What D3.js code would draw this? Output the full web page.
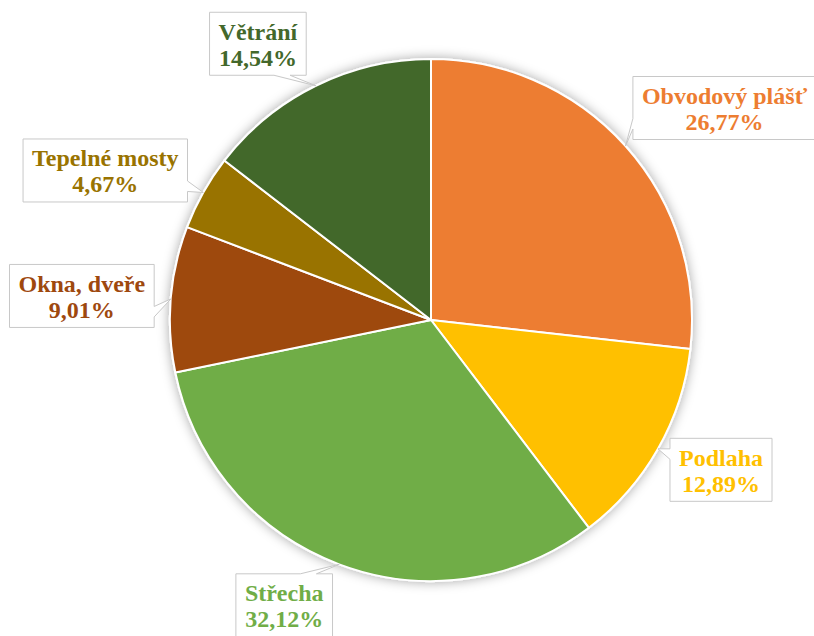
<!DOCTYPE html>
<html>
<head>
<meta charset="utf-8">
<script src="https://cdn.jsdelivr.net/npm/d3@7"></script>
<style>
  body { margin: 0; background: #fff; }
  svg { display: block; }
  .lbl { font-family: "Liberation Serif", "Times New Roman", Tinos, "DejaVu Serif", serif; font-weight: bold; }
</style>
</head>
<body>
<svg id="chart" width="814" height="636"></svg>
<script>
// data, clockwise from 12 o'clock
var categories = ["Obvodový plášť", "Podlaha", "Střecha", "Okna, dveře", "Tepelné mosty", "Větrání"];
var shares = [26.77, 12.89, 32.12, 9.01, 4.67, 14.54];
var shareLabels = ["26,77%", "12,89%", "32,12%", "9,01%", "4,67%", "14,54%"];
var colors = ["#ED7D31", "#FFC000", "#70AD47", "#9E480E", "#997300", "#43682B"];

// where each callout box sits, relative to the point its tail touches
var labelNudge = [[99, -38], [63, 21], [-55, 41], [-89, -3], [-98, -22], [-58, -42]];

var width = 814, height = 636;
var cx = 431, cy = 320, radius = 261;

var svg = d3.select("#chart");

var defs = svg.append("defs");
var shadow = defs.append("filter").attr("id", "pieShadow")
    .attr("x", "-20%").attr("y", "-20%").attr("width", "140%").attr("height", "140%");
shadow.append("feDropShadow")
    .attr("dx", 0).attr("dy", 0)
    .attr("stdDeviation", 6)
    .attr("flood-color", "#000")
    .attr("flood-opacity", 0.35);

var slices = categories.map(function (c, i) {
    return {name: c, value: shares[i], label: shareLabels[i], color: colors[i], nudge: labelNudge[i]};
});

var pie = d3.pie().sort(null).value(function (d) { return d.value; });
var arc = d3.arc().innerRadius(0).outerRadius(radius);
var arcs = pie(slices);

var g = svg.append("g").attr("transform", "translate(" + cx + "," + cy + ")");

g.append("g")
    .attr("filter", "url(#pieShadow)")
    .selectAll("path")
    .data(arcs)
    .join("path")
    .attr("d", arc)
    .attr("fill", function (d) { return d.data.color; })
    .attr("stroke", "#fff")
    .attr("stroke-width", 2)
    .attr("stroke-linejoin", "round");

// callout labels
var fontSize = 24, lineGap = 26, padX = 9, boxH = 63;

function calloutPath(x0, y0, w, h, tx, ty) {
    var x1 = x0 + w, y1 = y0 + h;
    var mx = x0 + w / 2, my = y0 + h / 2;
    var ox = Math.abs(tx - mx) - w / 2;
    var oy = Math.abs(ty - my) - h / 2;
    var p = [];
    if (ox > oy) {
        // tail on left or right side
        var a = ty < my ? y0 + h * 2 / 12 : y0 + h * 8 / 12;
        var b = ty < my ? y0 + h * 4 / 12 : y0 + h * 10 / 12;
        if (tx < mx) {
            p = [[x0, y0], [x1, y0], [x1, y1], [x0, y1], [x0, b], [tx, ty], [x0, a]];
        } else {
            p = [[x0, y0], [x1, y0], [x1, a], [tx, ty], [x1, b], [x1, y1], [x0, y1]];
        }
    } else {
        var c = tx < mx ? x0 + w * 2 / 12 : x0 + w * 8 / 12;
        var e = tx < mx ? x0 + w * 4 / 12 : x0 + w * 10 / 12;
        if (ty < my) {
            p = [[x0, y0], [c, y0], [tx, ty], [e, y0], [x1, y0], [x1, y1], [x0, y1]];
        } else {
            p = [[x0, y0], [x1, y0], [x1, y1], [e, y1], [tx, ty], [c, y1], [x0, y1]];
        }
    }
    return "M" + p.map(function (q) { return q[0] + "," + q[1]; }).join("L") + "Z";
}

var labels = svg.append("g")
    .selectAll("g")
    .data(arcs)
    .join("g");

labels.each(function (d) {
    var sel = d3.select(this);
    var mid = (d.startAngle + d.endAngle) / 2;
    var tx = cx + radius * Math.sin(mid);
    var ty = cy - radius * Math.cos(mid);
    var bx = tx + d.data.nudge[0], by = ty + d.data.nudge[1];

    var box = sel.append("path");
    var text = sel.append("text")
        .attr("class", "lbl")
        .attr("text-anchor", "middle")
        .attr("font-size", fontSize)
        .attr("fill", d.data.color);
    var t1 = text.append("tspan").attr("x", bx).attr("y", by - 4).text(d.data.name);
    var t2 = text.append("tspan").attr("x", bx).attr("y", by - 4 + lineGap).text(d.data.label);

    var w = Math.max(t1.node().getComputedTextLength(), t2.node().getComputedTextLength()) + padX * 2;
    box.attr("d", calloutPath(bx - w / 2, by - boxH / 2, w, boxH, tx, ty))
        .attr("fill", "#fff")
        .attr("stroke", "#C8C8C8")
        .attr("stroke-width", 1);
});
</script>
</body>
</html>
